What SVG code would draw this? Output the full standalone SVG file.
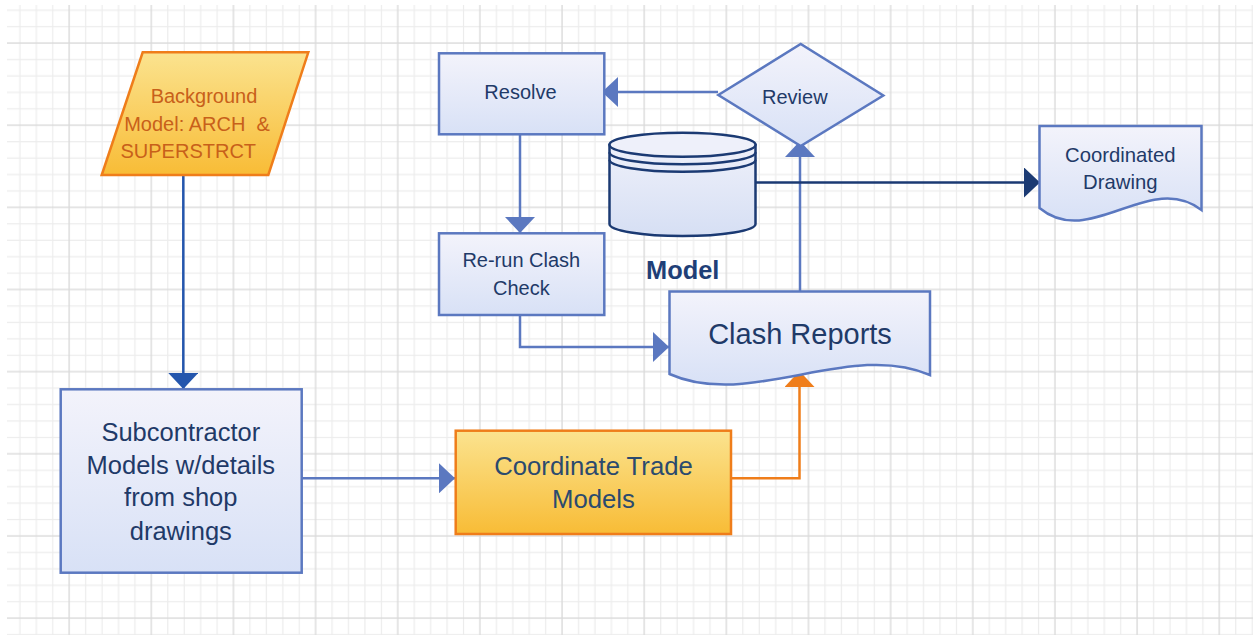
<svg xmlns="http://www.w3.org/2000/svg" width="1253" height="635" viewBox="0 0 1253 635">
<style>
text{font-family:"Liberation Sans",Arial,sans-serif;text-anchor:middle;white-space:pre}
.bn{fill:url(#gb);stroke:#5b78c0;stroke-width:2.5}
.on{fill:url(#go);stroke:#ef7d1a;stroke-width:2.5}
.tb{fill:#1f3a68}
.c{fill:none;stroke:#5b78c0;stroke-width:2.5}
</style>
<defs>
<linearGradient id="gb" x1="0" y1="0" x2="0" y2="1"><stop offset="0" stop-color="#f3f3fb"/><stop offset="1" stop-color="#d8e1f6"/></linearGradient>
<linearGradient id="go" x1="0" y1="0" x2="0" y2="1"><stop offset="0" stop-color="#fbe38f"/><stop offset="1" stop-color="#f8bc36"/></linearGradient>
<linearGradient id="gc" x1="0" y1="0" x2="0" y2="1"><stop offset="0" stop-color="#eef0fa"/><stop offset="1" stop-color="#d6dff4"/></linearGradient>
<pattern id="grid" patternUnits="userSpaceOnUse" x="68.1" y="42" width="82.15" height="82.15">
<g fill="#ececec">
<rect x="16.93" y="0" width="1.2" height="82.15"/><rect x="33.36" y="0" width="1.2" height="82.15"/><rect x="49.79" y="0" width="1.2" height="82.15"/><rect x="66.22" y="0" width="1.2" height="82.15"/>
<rect y="16.93" x="0" height="1.2" width="82.15"/><rect y="33.36" x="0" height="1.2" width="82.15"/><rect y="49.79" x="0" height="1.2" width="82.15"/><rect y="66.22" x="0" height="1.2" width="82.15"/>
</g>
<g fill="#d9d9d9"><rect x="0.4" y="0" width="1.3" height="82.15"/><rect y="0.4" x="0" height="1.3" width="82.15"/></g>
</pattern>
<marker id="ab" markerUnits="userSpaceOnUse" markerWidth="16" markerHeight="30" refX="16" refY="15" orient="auto"><path d="M0,0 L16,15 L0,30 Z" fill="#5b78c0"/></marker>
<marker id="ad" markerUnits="userSpaceOnUse" markerWidth="16" markerHeight="30" refX="16" refY="15" orient="auto"><path d="M0,0 L16,15 L0,30 Z" fill="#2456ad"/></marker>
<marker id="an" markerUnits="userSpaceOnUse" markerWidth="16" markerHeight="30" refX="16" refY="15" orient="auto"><path d="M0,0 L16,15 L0,30 Z" fill="#1b3a73"/></marker>
<marker id="ao" markerUnits="userSpaceOnUse" markerWidth="16" markerHeight="30" refX="16" refY="15" orient="auto"><path d="M0,0 L16,15 L0,30 Z" fill="#ef7d1a"/></marker>
</defs>
<rect width="1253" height="635" fill="#fff"/>
<rect x="7" y="5" width="1246" height="630" fill="url(#grid)"/>

<g id="connectors">
<path d="M183.3,176 V389" fill="none" stroke="#2456ad" stroke-width="2.5" marker-end="url(#ad)"/>
<path class="c" d="M297,478.3 H455" marker-end="url(#ab)"/>
<path d="M731,478.3 H799.5 V371" fill="none" stroke="#ef7d1a" stroke-width="2.5" marker-end="url(#ao)"/>
<path class="c" d="M800,291 V141" marker-end="url(#ab)"/>
<path class="c" d="M718,92 H602" marker-end="url(#ab)"/>
<path class="c" d="M520,135 V233" marker-end="url(#ab)"/>
<path class="c" d="M520,315 V347 H669" marker-end="url(#ab)"/>
<path d="M756,182.5 H1040" fill="none" stroke="#1b3a73" stroke-width="2.5" marker-end="url(#an)"/>
</g>

<g id="background">
<path class="on" d="M142.7,52.3 H308.3 L268.3,175 H101.7 Z"/>
<g fill="#c8601a" font-size="20">
<text x="204" y="102.7">Background</text>
<text x="197" y="131.2">Model: ARCH  &amp;</text>
<text x="188.3" y="157.9">SUPERSTRCT</text>
</g>
</g>

<g id="subcontractor">
<rect class="bn" x="60.7" y="389.3" width="241" height="183.4"/>
<g class="tb" font-size="25.5">
<text x="180.8" y="440.8">Subcontractor</text>
<text x="180.8" y="474.1">Models w/details</text>
<text x="180.8" y="506.4">from shop</text>
<text x="180.8" y="539.8">drawings</text>
</g>
</g>

<g id="coordinate">
<rect class="on" x="455.7" y="430.7" width="275.3" height="103.3"/>
<g fill="#2b4a6e" font-size="25.7">
<text x="593.5" y="475.2">Coordinate Trade</text>
<text x="593.5" y="507.5">Models</text>
</g>
</g>

<g id="resolve">
<rect class="bn" x="439" y="53.3" width="165.3" height="81"/>
<text class="tb" x="520.5" y="99" font-size="20">Resolve</text>
</g>

<g id="rerun">
<rect class="bn" x="439" y="233.3" width="165.3" height="81.7"/>
<g class="tb" font-size="20">
<text x="521.3" y="267.2">Re-run Clash</text>
<text x="521.3" y="294.5">Check</text>
</g>
</g>

<g id="review">
<path class="bn" d="M718.3,95 L800.7,44 L883.3,95.5 L800.7,146 Z"/>
<text class="tb" x="794.8" y="104" font-size="20">Review</text>
</g>

<g id="model">
<path d="M609.5,145 V224 A73,12 0 0 0 755.5,224 V145 Z" fill="url(#gc)" stroke="#1b3a73" stroke-width="2.5"/>
<ellipse cx="682.5" cy="144.7" rx="73" ry="12" fill="#eef0fa" stroke="#1b3a73" stroke-width="2.5"/>
<path d="M609.5,152.2 A73,12 0 0 0 755.5,152.2 M609.5,159.7 A73,12 0 0 0 755.5,159.7" fill="none" stroke="#1b3a73" stroke-width="2.5"/>
<text x="682.7" y="279.3" font-size="25.4" font-weight="bold" fill="#1f3f77">Model</text>
</g>

<g id="clash">
<path class="bn" d="M669.5,291.5 H930 V375 C850,340 750,410 669.5,374 Z"/>
<text class="tb" x="800" y="343.7" font-size="29">Clash Reports</text>
</g>

<g id="drawing">
<path class="bn" d="M1039.5,126 H1201.5 V210 C1150,170 1090,250 1039.5,208 Z"/>
<g class="tb" font-size="20.3">
<text x="1120.3" y="162.2">Coordinated</text>
<text x="1120.3" y="189">Drawing</text>
</g>
</g>
</svg>
